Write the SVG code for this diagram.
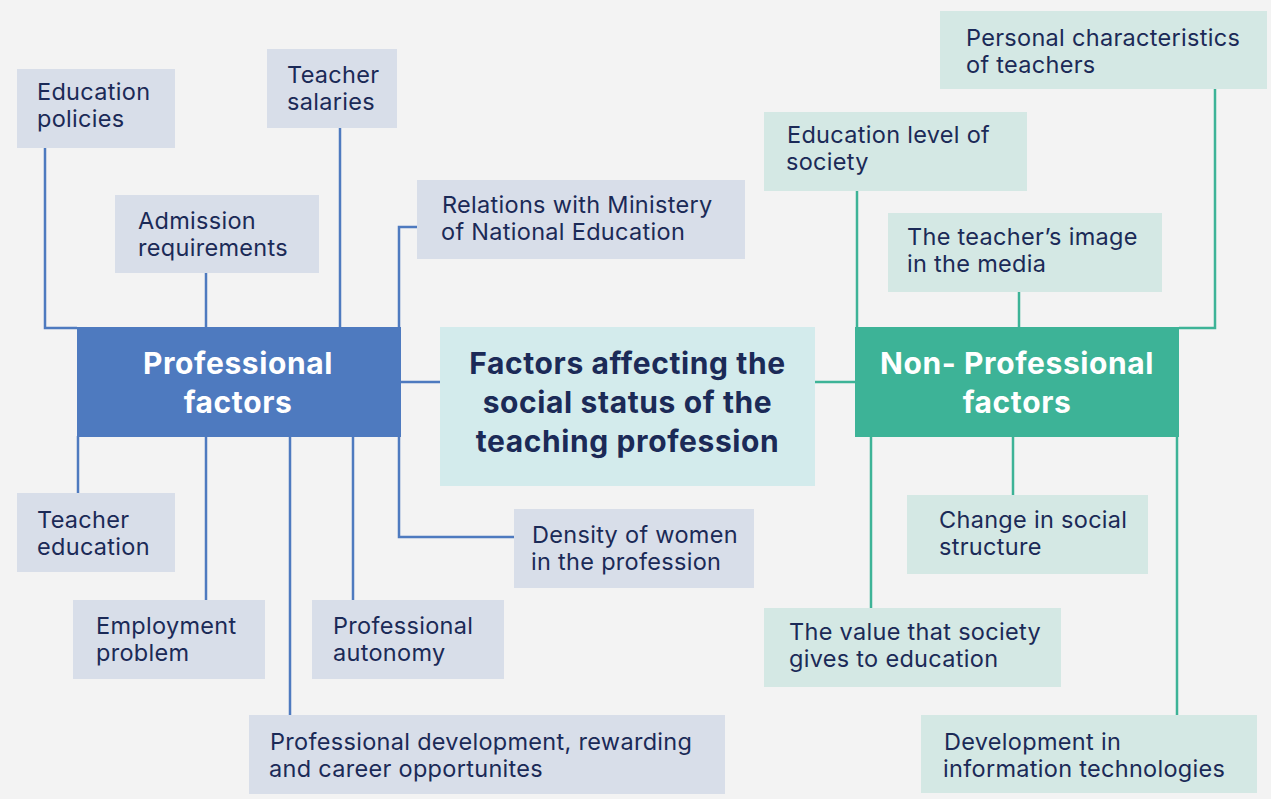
<svg xmlns="http://www.w3.org/2000/svg" width="1271" height="799" viewBox="0 0 1271 799">
<style>
.bg{fill:#f3f3f3}
.pl{fill:#d8dee9}
.nl{fill:#d4e8e4}
.t{font-family:Inter,"Liberation Sans",sans-serif;font-size:23.5px;letter-spacing:0.3px;fill:#1b2a57}
.h{font-family:Inter,"Liberation Sans",sans-serif;font-size:30px;font-weight:700;letter-spacing:0.6px;text-anchor:middle}
.w{fill:#ffffff}
.d{fill:#1b2a57}
.cb{fill:none;stroke:#4e7abf;stroke-width:2.5}
.cg{fill:none;stroke:#3db397;stroke-width:2.5}
</style>
<rect class="bg" x="0" y="0" width="1271" height="799"/>
<g id="connectors">
<polyline class="cb" points="45,148 45,328 77,328"/>
<line class="cb" x1="206" y1="273" x2="206" y2="328"/>
<line class="cb" x1="340" y1="128" x2="340" y2="328"/>
<polyline class="cb" points="417,227 399,227 399,328"/>
<line class="cb" x1="78" y1="436" x2="78" y2="493"/>
<line class="cb" x1="206" y1="436" x2="206" y2="600"/>
<line class="cb" x1="290" y1="436" x2="290" y2="715"/>
<line class="cb" x1="353" y1="436" x2="353" y2="600"/>
<polyline class="cb" points="399,436 399,537 515,537"/>
<line class="cb" x1="400" y1="382" x2="440" y2="382"/>
<line class="cg" x1="815" y1="382" x2="855" y2="382"/>
<line class="cg" x1="857" y1="191" x2="857" y2="328"/>
<line class="cg" x1="1019" y1="292" x2="1019" y2="328"/>
<polyline class="cg" points="1215,89 1215,328 1179,328"/>
<line class="cg" x1="871" y1="436" x2="871" y2="608"/>
<line class="cg" x1="1013" y1="436" x2="1013" y2="495"/>
<line class="cg" x1="1177" y1="436" x2="1177" y2="715"/>
</g>
<g id="center">
<rect x="440" y="327" width="375" height="159" fill="#d3ebec"/>
<text class="h d" x="627.5" y="374">Factors affecting the</text>
<text class="h d" x="627.5" y="413">social status of the</text>
<text class="h d" x="627.5" y="452">teaching profession</text>
</g>
<g id="professional">
<rect x="77" y="327" width="324" height="110" fill="#4e7abf"/>
<text class="h w" x="238" y="374">Professional</text>
<text class="h w" x="238" y="413">factors</text>
</g>
<g id="nonprofessional">
<rect x="855" y="327" width="324" height="110" fill="#3db397"/>
<text class="h w" x="1017" y="374">Non- Professional</text>
<text class="h w" x="1017" y="413">factors</text>
</g>
<g id="education-policies">
<rect class="pl" x="17" y="69" width="158" height="79"/>
<text class="t" x="37" y="100">Education</text>
<text class="t" x="37" y="127">policies</text>
</g>
<g id="teacher-salaries">
<rect class="pl" x="267" y="49" width="130" height="79"/>
<text class="t" x="287" y="83">Teacher</text>
<text class="t" x="287" y="110">salaries</text>
</g>
<g id="admission-requirements">
<rect class="pl" x="115" y="195" width="204" height="78"/>
<text class="t" x="138" y="229">Admission</text>
<text class="t" x="138" y="256">requirements</text>
</g>
<g id="relations-ministry">
<rect class="pl" x="417" y="180" width="328" height="79"/>
<text class="t" x="442" y="213">Relations with Ministery</text>
<text class="t" x="441" y="240">of National Education</text>
</g>
<g id="teacher-education">
<rect class="pl" x="17" y="493" width="158" height="79"/>
<text class="t" x="37" y="528">Teacher</text>
<text class="t" x="37" y="555">education</text>
</g>
<g id="employment-problem">
<rect class="pl" x="73" y="600" width="192" height="79"/>
<text class="t" x="96" y="634">Employment</text>
<text class="t" x="96" y="661">problem</text>
</g>
<g id="professional-autonomy">
<rect class="pl" x="312" y="600" width="192" height="79"/>
<text class="t" x="333" y="634">Professional</text>
<text class="t" x="333" y="661">autonomy</text>
</g>
<g id="professional-development">
<rect class="pl" x="249" y="715" width="476" height="79"/>
<text class="t" x="270" y="750">Professional development, rewarding</text>
<text class="t" x="269" y="777">and career opportunites</text>
</g>
<g id="density-women">
<rect class="pl" x="514" y="509" width="240" height="79"/>
<text class="t" x="532" y="543">Density of women</text>
<text class="t" x="531" y="570">in the profession</text>
</g>
<g id="personal-characteristics">
<rect class="nl" x="940" y="11" width="327" height="78"/>
<text class="t" x="966" y="46">Personal characteristics</text>
<text class="t" x="966" y="73">of teachers</text>
</g>
<g id="education-level">
<rect class="nl" x="764" y="112" width="263" height="79"/>
<text class="t" x="787" y="143">Education level of</text>
<text class="t" x="786" y="170">society</text>
</g>
<g id="teacher-image">
<rect class="nl" x="888" y="213" width="274" height="79"/>
<text class="t" x="907" y="245">The teacher’s image</text>
<text class="t" x="907" y="272">in the media</text>
</g>
<g id="change-social-structure">
<rect class="nl" x="907" y="495" width="241" height="79"/>
<text class="t" x="939" y="528">Change in social</text>
<text class="t" x="939" y="555">structure</text>
</g>
<g id="value-education">
<rect class="nl" x="764" y="608" width="297" height="79"/>
<text class="t" x="789" y="640">The value that society</text>
<text class="t" x="789" y="667">gives to education</text>
</g>
<g id="information-technologies">
<rect class="nl" x="921" y="715" width="336" height="78"/>
<text class="t" x="944" y="750">Development in</text>
<text class="t" x="943" y="777">information technologies</text>
</g>
</svg>
